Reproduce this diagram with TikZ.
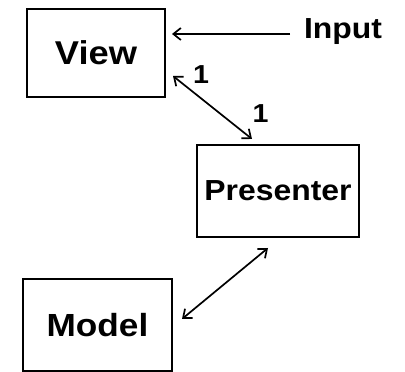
\documentclass[tikz,border=0pt]{standalone}
\usepackage{fontspec}
\newfontfamily\diagfont[FakeStretch=1.1]{Liberation Sans}
\usetikzlibrary{arrows.meta}
\begin{document}
\begin{tikzpicture}[x=1pt,y=1pt,
  box/.style={draw, line width=2.2pt, inner sep=0pt, font=\diagfont\bfseries},
  link/.style={line width=1.7pt, {Straight Barb[length=7.5pt,width=12pt,line width=1.7pt]}-{Straight Barb[length=7.5pt,width=12pt,line width=1.7pt]}},
  onelink/.style={line width=1.7pt, -{Straight Barb[length=7.5pt,width=12pt,line width=1.7pt]}},
  lbl/.style={inner sep=0pt, font=\diagfont\bfseries}]
\useasboundingbox (0,0) rectangle (405,372);
\node[box, minimum width=138pt, minimum height=88pt, font=\diagfont\bfseries\fontsize{33}{38}\selectfont] (view) at (96,319) {View};
\node[box, minimum width=162pt, minimum height=92pt, font=\diagfont\bfseries\fontsize{29}{34}\selectfont] (presenter) at (278,181) {Presenter};
\node[box, minimum width=149pt, minimum height=92pt, font=\diagfont\bfseries\fontsize{32}{36}\selectfont] (model) at (97.5,47) {Model};
\node[lbl, font=\diagfont\bfseries\fontsize{29}{34}\selectfont] (input) at (343,340) {Input};
\node[lbl, font=\diagfont\bfseries\fontsize{26}{30}\selectfont] (one1) at (201,297) {1};
\node[lbl, font=\diagfont\bfseries\fontsize{26}{30}\selectfont] (one2) at (260.5,258.5) {1};
\coordinate (inA) at (290,338);
\coordinate (inB) at (172,338);
\coordinate (vpA) at (173,296);
\coordinate (vpB) at (252,233);
\coordinate (pmA) at (268,124);
\coordinate (pmB) at (182,53);
\draw[onelink] (inA) -- (inB);
\draw[link] (vpA) -- (vpB);
\draw[link] (pmA) -- (pmB);
\end{tikzpicture}
\end{document}
